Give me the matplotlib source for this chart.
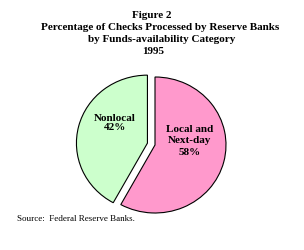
import matplotlib
matplotlib.use("Agg")
import matplotlib.pyplot as plt

categories = ["Local and\nNext-day", "Nonlocal"]
values = [58, 42]
colors = ["#FF99CC", "#CCFFCC"]
explode = [0.0, 0.11]

W, H = 304, 250
fig = plt.figure(figsize=(W/100, H/100), dpi=100)
fig.patch.set_facecolor("white")

cx, cy, rx, ry = 155, 145, 71, 68
ax = fig.add_axes([(cx-rx)/W, (H-(cy+ry))/H, 2*rx/W, 2*ry/H])
wedges, _ = ax.pie(values, colors=colors, explode=explode, startangle=90,
                   counterclock=False, radius=1,
                   wedgeprops=dict(edgecolor="black", linewidth=0.8))
for w in wedges:
    w.set_clip_on(False)
ax.set_aspect("auto")
ax.set_xlim(-1, 1)
ax.set_ylim(-1, 1)
ax.axis("off")

serif = "Liberation Serif"
ax.text(-0.56, 0.32, "Nonlocal\n42%", ha="center", va="center", fontsize=8,
        fontweight="bold", family=serif, linespacing=1.05)
ax.text(0.49, 0.06, "Local and\nNext-day\n58%", ha="center", va="center", fontsize=8,
        fontweight="bold", family=serif, linespacing=1.3)

titles = [("Figure 2", 152, 15), ("Percentage of Checks Processed by Reserve Banks", 160, 27),
          ("by Funds-availability Category", 162, 39), ("1995", 153, 51)]
for t, x, y in titles:
    fig.text(x/W, 1-y/H, t, ha="center", va="center", fontsize=8, fontweight="bold", family=serif)

fig.text(17/W, 1-219/H, "Source:  Federal Reserve Banks.", ha="left", va="center",
         fontsize=6.5, family=serif)

fig.savefig("out.png", dpi=100)
